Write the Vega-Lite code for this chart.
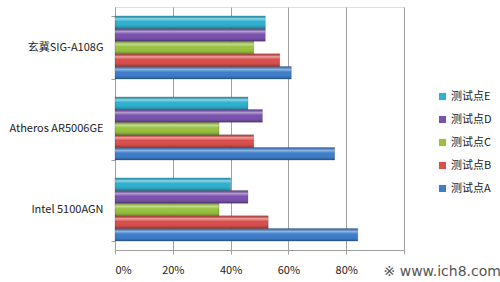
{
  "$schema": "https://vega.github.io/schema/vega-lite/v6.json",
  "autosize": {"type": "none"},
  "width": 289,
  "height": 243,
  "padding": {"left": 115, "top": 7, "right": 96, "bottom": 32},
  "background": "white",
  "data": {
    "values": [
      {"device": "玄冀SIG-A108G", "point": "测试点A", "value": 0.61},
      {"device": "玄冀SIG-A108G", "point": "测试点B", "value": 0.57},
      {"device": "玄冀SIG-A108G", "point": "测试点C", "value": 0.48},
      {"device": "玄冀SIG-A108G", "point": "测试点D", "value": 0.52},
      {"device": "玄冀SIG-A108G", "point": "测试点E", "value": 0.52},
      {"device": "Atheros AR5006GE", "point": "测试点A", "value": 0.76},
      {"device": "Atheros AR5006GE", "point": "测试点B", "value": 0.48},
      {"device": "Atheros AR5006GE", "point": "测试点C", "value": 0.36},
      {"device": "Atheros AR5006GE", "point": "测试点D", "value": 0.51},
      {"device": "Atheros AR5006GE", "point": "测试点E", "value": 0.46},
      {"device": "Intel 5100AGN", "point": "测试点A", "value": 0.84},
      {"device": "Intel 5100AGN", "point": "测试点B", "value": 0.53},
      {"device": "Intel 5100AGN", "point": "测试点C", "value": 0.36},
      {"device": "Intel 5100AGN", "point": "测试点D", "value": 0.46},
      {"device": "Intel 5100AGN", "point": "测试点E", "value": 0.40}
    ]
  },
  "encoding": {
    "y": {
      "field": "device",
      "type": "nominal",
      "sort": ["玄冀SIG-A108G", "Atheros AR5006GE", "Intel 5100AGN"],
      "scale": {"paddingInner": 0.22, "paddingOuter": 0.11},
      "axis": {
        "title": null,
        "tickBand": "extent",
        "tickSize": 4,
        "labelPadding": 8,
        "labelFontSize": 11,
        "labelFont": "Noto Sans CJK SC",
        "labelColor": "#222222",
        "domainColor": "#a0a0a0",
        "tickColor": "#a0a0a0",
        "grid": false
      }
    },
    "yOffset": {
      "field": "point",
      "type": "nominal",
      "sort": ["测试点E", "测试点D", "测试点C", "测试点B", "测试点A"],
      "scale": {"paddingInner": 0, "paddingOuter": 0}
    },
    "x": {
      "field": "value",
      "type": "quantitative",
      "scale": {"domain": [0, 1], "nice": false},
      "axis": {
        "values": [0, 0.2, 0.4, 0.6, 0.8, 1],
        "format": "%",
        "labelExpr": "datum.value >= 1 ? '' : datum.label",
        "grid": true,
        "gridColor": "#a0a0a0",
        "domainColor": "#a0a0a0",
        "tickColor": "#a0a0a0",
        "tickSize": 4,
        "labelPadding": 10,
        "labelFontSize": 11,
        "labelFont": "Noto Sans CJK SC",
        "labelColor": "#222222",
        "title": "※ www.ich8.com",
        "titleFont": "DejaVu Sans",
        "titleFontSize": 14,
        "titleFontWeight": "normal",
        "titleColor": "#555555",
        "titleAlign": "left",
        "titleAnchor": "start",
        "titleX": 268,
        "titleY": 21,
        "titleBaseline": "middle"
      }
    }
  },
  "layer": [
    {
      "mark": {"type": "bar", "strokeWidth": 0.6, "stroke": "rgba(0,0,0,0.3)"},
      "encoding": {
        "color": {
          "field": "point",
          "type": "nominal",
          "sort": ["测试点E", "测试点D", "测试点C", "测试点B", "测试点A"],
          "scale": {
            "domain": ["测试点E", "测试点D", "测试点C", "测试点B", "测试点A"],
            "range": ["#2EB0CF", "#7A52AE", "#98C23E", "#D94F4C", "#3D7DCA"]
          },
          "legend": {
            "title": null,
            "orient": "none",
            "legendX": 322,
            "legendY": 84,
            "padding": 0,
            "symbolType": "square",
            "symbolSize": 50,
            "symbolStrokeWidth": 0,
            "labelFontSize": 11,
            "labelFont": "Noto Sans CJK SC",
            "labelColor": "#222222",
            "labelOffset": 3,
            "rowPadding": 11
          }
        }
      }
    },
    {
      "mark": {
        "type": "bar",
        "fill": {
          "gradient": "linear",
          "x1": 0, "y1": 0, "x2": 0, "y2": 1,
          "stops": [
            {"offset": 0, "color": "rgba(0,0,0,0.08)"},
            {"offset": 0.22, "color": "rgba(255,255,255,0.45)"},
            {"offset": 0.45, "color": "rgba(255,255,255,0)"},
            {"offset": 0.8, "color": "rgba(0,0,0,0.05)"},
            {"offset": 1, "color": "rgba(0,0,0,0.3)"}
          ]
        }
      },
      "encoding": {}
    }
  ]
}
